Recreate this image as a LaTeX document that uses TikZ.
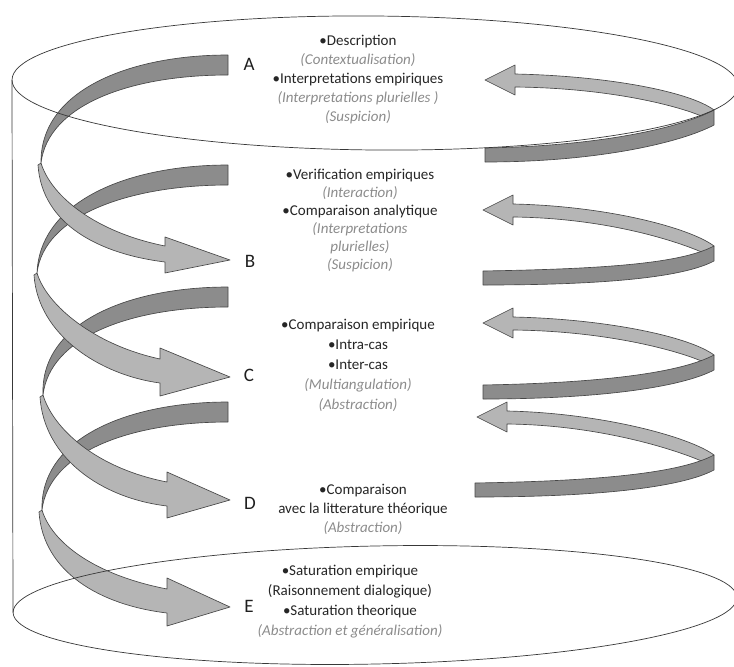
\documentclass[tikz,border=0pt]{standalone}
\usepackage{fontspec}
\setmainfont{Carlito}
\newcommand\paren[1]{\textcolor{black!45}{\itshape #1}}
\begin{document}
\begin{tikzpicture}[x=1pt,y=-1pt,
  band/.style={draw=black!72, line width=0.65pt, line join=round},
  backband/.style={band, fill=black!45},
  frontband/.style={band, fill=black!29},
  rim/.style={draw=black!78, line width=0.7pt},
  letter/.style={font=\fontsize{19}{19}\selectfont, text=black!88, inner sep=0pt},
  stage/.style={align=center, font=\fontsize{15}{19}\selectfont, text=black!85, inner sep=0pt},
]
\useasboundingbox (0,0) rectangle (734,667);
\fill[white] (0,0) rectangle (734,667);

% left half of the spiral: rear turns first
\foreach \yc/\tx in {65/41, 175/37, 297/43, 412/42}
  \path[backband] (228,\yc-10) .. controls (130,\yc-10) and (40,\yc+25) .. (\tx,\yc+98)
     .. controls (\tx+7,\yc+40) and (130,\yc+10) .. (228,\yc+10) -- cycle;
% front turns ending in the arrowheads
\foreach \yc/\tx/\ty/\hw/\sw/\hx in {65/41/260/18/8/165, 175/37/377/24/12/160, 297/43/500/23/12/167, 412/42/607/24/12/167}
  \path[frontband] (\tx,\yc+98) .. controls (\tx+10,\yc+131) and (95,\ty-6-\sw-14) .. (\hx,\ty-6-\sw)
     -- (\hx,\ty-5-\hw) -- (230,\ty) -- (\hx,\ty-5+\hw) -- (\hx,\ty-6+\sw)
     .. controls (100,\ty-6+\sw-8) and (\tx+1,\yc+160) .. (\tx-3,\yc+100) -- cycle;

% right half of the spiral
\foreach \yh/\yr/\yd/\xh/\xd in {80/110/155/485/485, 210/246/278/483/483, 323/355/392/483/483, 417/455/490/477/475}{
  \path[frontband] (\xh+30,\yh-6) .. controls (\xh+125,\yh-4) and (690,\yr-18) .. (714,\yr)
     -- (706,\yr+8) .. controls (680,\yr-4) and (\xh+125,\yh+8) .. (\xh+30,\yh+7)
     -- (\xh+30,\yh+15) -- (\xh,\yh) -- (\xh+30,\yh-15) -- cycle;
  \path[backband] (\xd,\yd-7) .. controls (600,\yd-9) and (680,\yr+18) .. (714,\yr)
     -- (714,\yr+15) .. controls (682,\yr+32) and (600,\yd+7) .. (\xd,\yd+7) -- cycle;
}

% cylinder outline
\draw[rim, rotate around={-0.5:(375,83)}] (375,83) ellipse [x radius=363pt, y radius=67pt];
\draw[rim, rotate around={1.2:(375,605)}] (375,605) ellipse [x radius=362pt, y radius=59pt];
\coordinate (topL) at (12,80);
\coordinate (botL) at (13,612.6);
\draw[rim] (topL) -- (botL);

% stage letters
\node[letter] (lA) at (249,64) {A};
\node[letter] (lB) at (250,261) {B};
\node[letter] (lC) at (249,375) {C};
\node[letter] (lD) at (250,503) {D};
\node[letter] (lE) at (249,606) {E};

% stage contents
\node[stage] (tA) at (358,80) {•Description\\ \paren{(Contextualisation)}\\ •Interpretations empiriques\\ \paren{(Interpretations plurielles )}\\ \paren{(Suspicion)}};
\node[stage, font=\fontsize{15}{18}\selectfont] (tB) at (360,221) {•Verification empiriques\\ \paren{(Interaction)}\\ •Comparaison analytique\\ \paren{(Interpretations}\\ \paren{plurielles)}\\ \paren{(Suspicion)}};
\node[stage, font=\fontsize{15}{20}\selectfont] (tC) at (358,365) {•Comparaison empirique\\ •Intra-cas\\ •Inter-cas\\ \paren{(Multiangulation)}\\ \paren{(Abstraction)}};
\node[stage] (tD) at (363,509) {•Comparaison\\ avec la litterature théorique\\ \paren{(Abstraction)}};
\node[stage, font=\fontsize{15}{20}\selectfont] (tE) at (350,602) {•Saturation empirique\\ (Raisonnement dialogique)\\ •Saturation theorique\\ \paren{(Abstraction et généralisation)}};
\end{tikzpicture}
\end{document}
